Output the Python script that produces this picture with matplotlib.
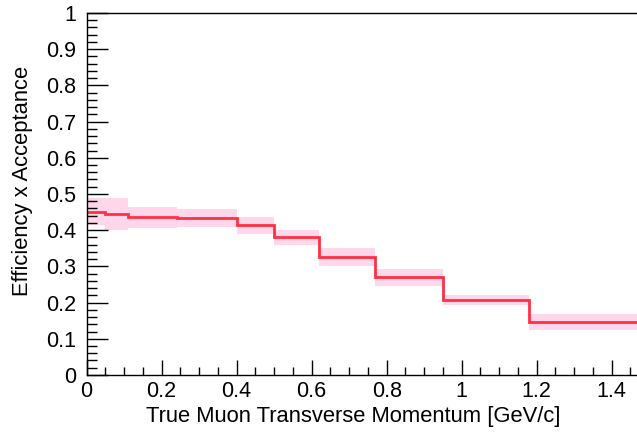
import numpy as np
import matplotlib.pyplot as plt
from matplotlib.ticker import MultipleLocator, FuncFormatter

plt.rcParams['font.family'] = ['Liberation Sans', 'DejaVu Sans']

# Bin edges in true muon pT [GeV/c] and efficiency x acceptance per bin
edges = np.array([0.0, 0.05, 0.11, 0.17, 0.24, 0.31, 0.40, 0.50, 0.62, 0.77, 0.95, 1.18, 1.50])
eff = np.array([0.451, 0.445, 0.435, 0.435, 0.433, 0.433, 0.413, 0.380, 0.325, 0.270, 0.208, 0.146])
err = np.array([0.037, 0.045, 0.029, 0.029, 0.025, 0.025, 0.023, 0.021, 0.025, 0.023, 0.014, 0.022])

fig = plt.figure(figsize=(6.37, 4.32), dpi=100)
ax = fig.add_axes([0.136, 0.132, 0.864, 0.838])

centers = 0.5 * (edges[:-1] + edges[1:])
widths = np.diff(edges)

# systematic band
ax.bar(centers, 2 * err, width=widths, bottom=eff - err,
       color='#ffd6ea', edgecolor='none', zorder=1)
# central values
ax.stairs(eff, edges, baseline=None, color='#ff3045', lw=2.0, zorder=2)

ax.set_xlim(0, 1.4675)
ax.set_ylim(0, 1)

ax.spines['right'].set_visible(False)
for s in ['left', 'bottom', 'top']:
    ax.spines[s].set_linewidth(1.0)

ax.xaxis.set_major_locator(MultipleLocator(0.2))
ax.xaxis.set_minor_locator(MultipleLocator(0.05))
ax.yaxis.set_major_locator(MultipleLocator(0.1))
ax.yaxis.set_minor_locator(MultipleLocator(0.02))
fmt = FuncFormatter(lambda v, p: f'{v:.1f}'.rstrip('0').rstrip('.') if abs(v) > 1e-9 else '0')
ax.xaxis.set_major_formatter(fmt)
ax.yaxis.set_major_formatter(fmt)

ax.tick_params(axis='x', which='major', direction='in', length=11, width=1, labelsize=15.5, pad=4)
ax.tick_params(axis='x', which='minor', direction='in', length=5.5, width=1)
ax.tick_params(axis='y', which='major', direction='in', length=15, width=1, labelsize=15.5, pad=7.5)
ax.tick_params(axis='y', which='minor', direction='in', length=7.5, width=1)

ax.set_xlabel('True Muon Transverse Momentum [GeV/c]', fontsize=15.8, labelpad=2)
ax.xaxis.set_label_coords(0.485, -0.085)
ax.set_ylabel('Efficiency x Acceptance', fontsize=15.8, labelpad=8)
ax.yaxis.set_label_coords(-0.097, 0.535)

fig.savefig('out.png', dpi=100)
